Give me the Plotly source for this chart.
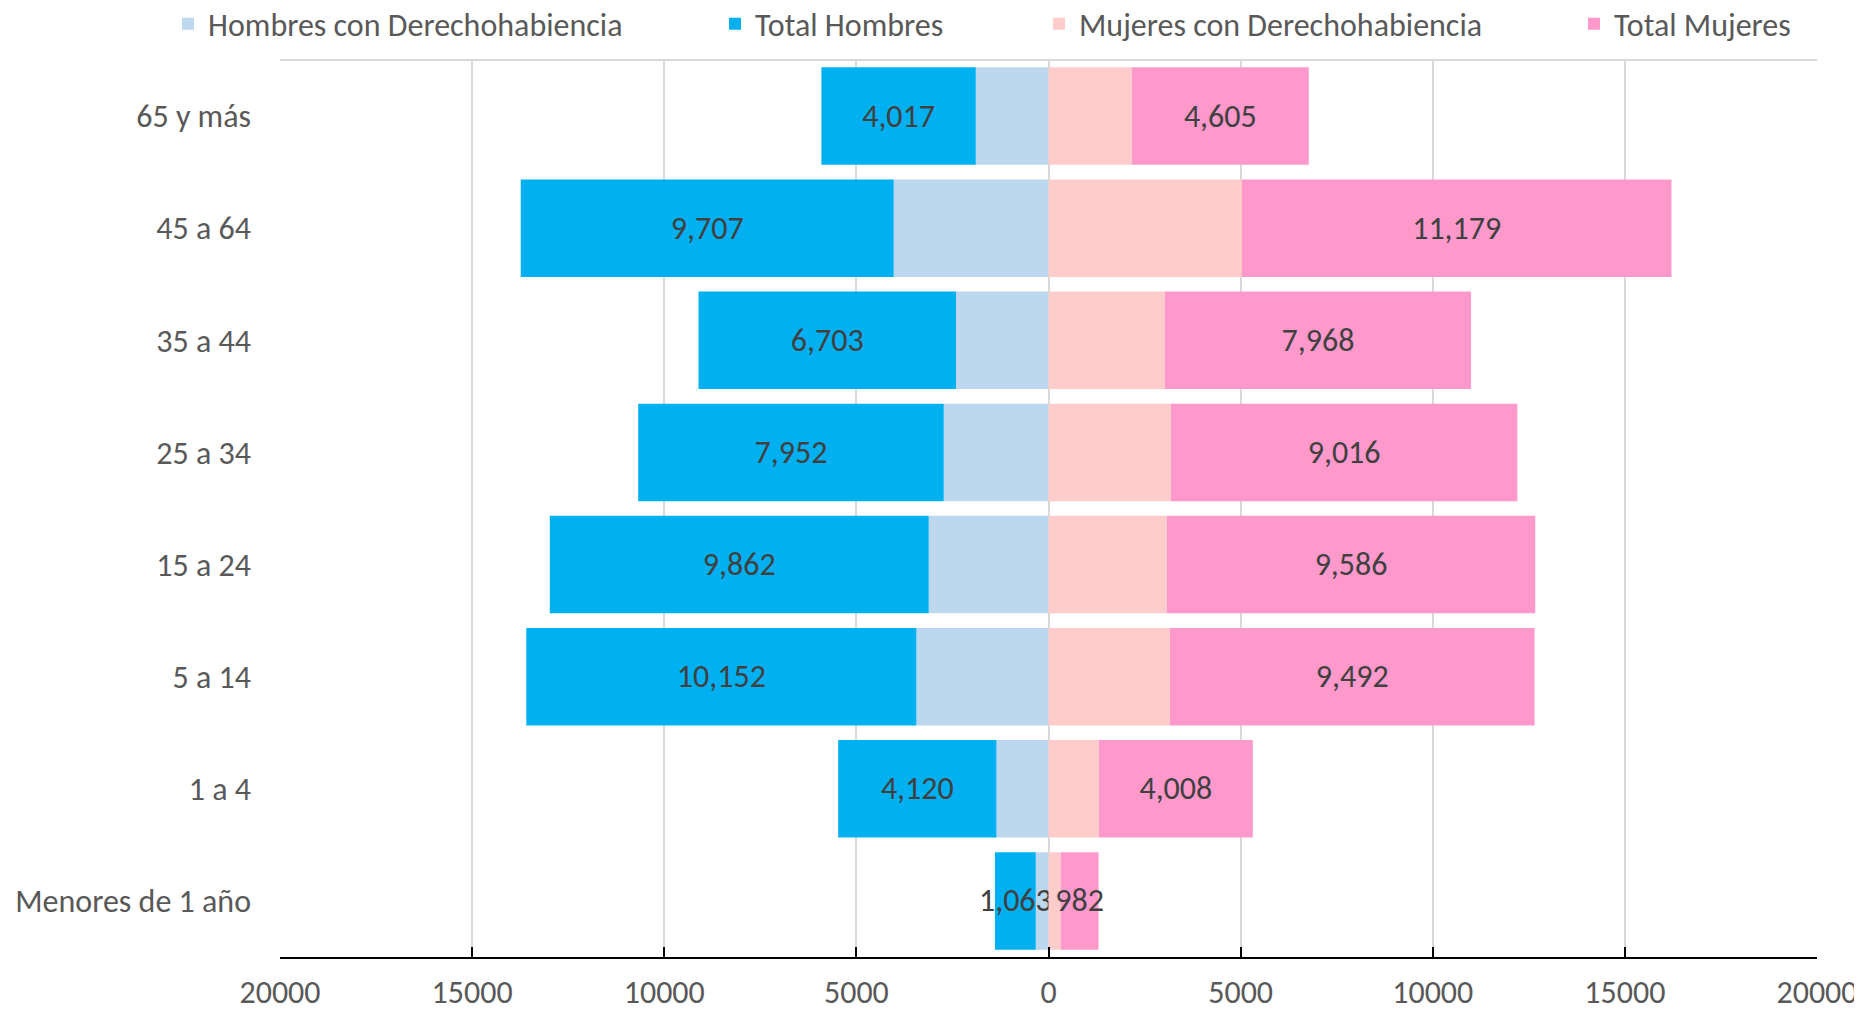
import plotly.graph_objects as go

# grupos de edad (de abajo hacia arriba)
grupos = ["Menores de 1 año", "1 a 4", "5 a 14", "15 a 24", "25 a 34", "35 a 44", "45 a 64", "65 y más"]

hombres_derecho = [331, 1354, 3438, 3117, 2726, 2406, 4028, 1893]
total_hombres = [1063, 4120, 10152, 9862, 7952, 6703, 9707, 4017]
mujeres_derecho = [320, 1310, 3159, 3081, 3185, 3029, 5034, 2169]
total_mujeres = [982, 4008, 9492, 9586, 9016, 7968, 11179, 4605]

tick_vals = [-20000, -15000, -10000, -5000, 0, 5000, 10000, 15000, 20000]
tick_text = ["20000", "15000", "10000", "5000", "0", "5000", "10000", "15000", "20000"]

FONT = "Calibri, Carlito, Lato, sans-serif"
GRIS = "#595959"
FS = 32
# la página tiene 8 px de margen en el body
W, H = 1854, 1004

fig = go.Figure()
fig.add_trace(go.Bar(
    y=grupos, x=[-v for v in hombres_derecho], orientation="h",
    name="Hombres con Derechohabiencia", marker=dict(color="#BDD7EE", line_width=0),
    legend="legend", showlegend=True,
))
fig.add_trace(go.Bar(
    y=grupos, x=[-v for v in total_hombres], orientation="h",
    name="Total Hombres", marker=dict(color="#00B0F0", line_width=0),
    text=[f"{v:,}" for v in total_hombres], textposition="inside",
    insidetextanchor="middle", textangle=0, constraintext="none",
    textfont=dict(family=FONT, size=FS, color="#404040"),
    legend="legend2", showlegend=True,
))
fig.add_trace(go.Bar(
    y=grupos, x=mujeres_derecho, orientation="h",
    name="Mujeres con Derechohabiencia", marker=dict(color="#FFCCCC", line_width=0),
    legend="legend3", showlegend=True,
))
fig.add_trace(go.Bar(
    y=grupos, x=total_mujeres, orientation="h",
    name="Total Mujeres", marker=dict(color="#FF99CC", line_width=0),
    text=[f"{v:,}" for v in total_mujeres], textposition="inside",
    insidetextanchor="middle", textangle=0, constraintext="none",
    textfont=dict(family=FONT, size=FS, color="#404040"),
    legend="legend4", showlegend=True,
))
fig.update_traces(cliponaxis=False)

# leyendas separadas, posicionadas respecto a la figura completa
leg = dict(orientation="h", xref="container", yref="container",
           yanchor="middle", y=1 - 16 / H, xanchor="left",
           bgcolor="rgba(0,0,0,0)", font=dict(family=FONT, size=FS, color=GRIS))
fig.update_layout(
    width=W, height=H, showlegend=True,
    barmode="relative", bargap=0.13,
    paper_bgcolor="white", plot_bgcolor="white",
    margin=dict(l=272, r=45, t=52, b=55, autoexpand=False),
    font=dict(family=FONT, size=FS, color=GRIS),
    legend=dict(leg, x=160 / W),
    legend2=dict(leg, x=707 / W),
    legend3=dict(leg, x=1031 / W),
    legend4=dict(leg, x=1566 / W),
    xaxis=dict(
        range=[-20000, 20000], tickvals=tick_vals, ticktext=tick_text,
        showgrid=True, gridcolor="#D9D9D9", gridwidth=2, zeroline=False,
        showline=True, linecolor="#000000", linewidth=2,
        ticks="inside", ticklen=10, tickwidth=2, tickcolor="#000000",
        ticklabelstandoff=6,
        tickfont=dict(family=FONT, size=FS, color=GRIS),
    ),
    yaxis=dict(
        showgrid=False, zeroline=False, showline=False,
        ticklabelstandoff=28,
        tickfont=dict(family=FONT, size=FS, color=GRIS),
    ),
    shapes=[dict(type="line", xref="paper", yref="paper", x0=0, x1=1, y0=1, y1=1,
                 line=dict(color="#D9D9D9", width=2))],
)

fig.write_html("out.html")
